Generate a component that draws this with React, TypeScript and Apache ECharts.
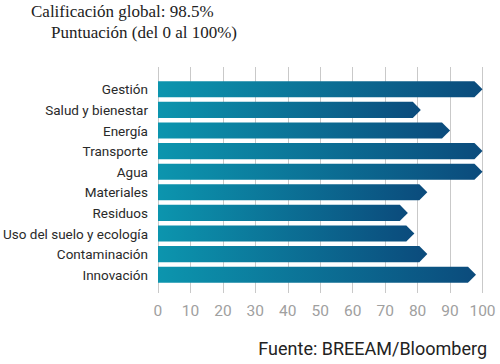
import React, { useEffect, useRef } from "react";
import * as echarts from "echarts";

const categories = [
  "Gestión",
  "Salud y bienestar",
  "Energía",
  "Transporte",
  "Agua",
  "Materiales",
  "Residuos",
  "Uso del suelo y ecología",
  "Contaminación",
  "Innovación",
];
const values = [100, 81, 90, 100, 100, 83, 77, 79, 83, 98];
const titleLines = ["Calificación global: 98.5%", "Puntuación (del 0 al 100%)"];
const source = "Fuente: BREEAM/Bloomberg";

export default function App() {
  const ref = useRef<HTMLDivElement>(null);
  useEffect(() => {
    if (!ref.current) return;
    const chart = echarts.init(ref.current, null, { renderer: "svg" });
    const gray = "#c9c9c9";
    chart.setOption({
      animation: false,
      grid: { left: 157.5, right: 17.5, top: 79, bottom: 79, containLabel: false },
      graphic: [
        {
          type: "text",
          left: 31,
          top: 3,
          style: { text: titleLines[0], font: '17px "Liberation Serif", serif', fill: "#222" },
        },
        {
          type: "text",
          left: 51,
          top: 24,
          style: { text: titleLines[1], font: '17px "Liberation Serif", serif', fill: "#222" },
        },
        {
          type: "text",
          right: 13,
          top: 339,
          style: { text: source, font: '18px Roboto, sans-serif', fill: "#222" },
        },
      ],
      xAxis: [
        {
          type: "value",
          min: 0,
          max: 100,
          interval: 10,
          position: "bottom",
          axisLine: { show: false },
          axisTick: { show: true, length: 8, lineStyle: { color: gray } },
          splitLine: { show: true, lineStyle: { color: gray, width: 1 } },
          axisLabel: { color: "#a0a0a0", fontSize: 15.5, fontFamily: "Roboto", margin: 18 },
        },
        {
          type: "value",
          min: 0,
          max: 100,
          interval: 10,
          position: "top",
          axisLine: { show: false },
          axisTick: { show: true, length: 12, lineStyle: { color: gray } },
          splitLine: { show: false },
          axisLabel: { show: false },
        },
      ],
      yAxis: {
        type: "category",
        data: categories,
        inverse: true,
        axisLine: { show: false },
        axisTick: { show: false },
        axisLabel: { color: "#2a2a2a", fontSize: 13.5, fontFamily: "Roboto", margin: 10 },
      },
      series: [
        {
          type: "custom",
          xAxisIndex: 0,
          data: values.map((v, i) => [v, i]),
          encode: { x: 0, y: 1 },
          renderItem: (params: any, api: any) => {
            const v = api.value(0);
            const idx = api.value(1);
            const start = api.coord([0, idx]);
            const end = api.coord([v, idx]);
            const band = api.size([0, 1])[1];
            const h = band * 0.78;
            const y = start[1];
            const x0 = start[0];
            const x1 = end[0];
            const tip = h / 2;
            return {
              type: "polygon",
              shape: {
                points: [
                  [x0, y - h / 2],
                  [x1 - tip, y - h / 2],
                  [x1, y],
                  [x1 - tip, y + h / 2],
                  [x0, y + h / 2],
                ],
              },
              style: {
                fill: new echarts.graphic.LinearGradient(0, 0, 1, 0, [
                  { offset: 0, color: "#0c95ae" },
                  { offset: 1, color: "#0b4b7c" },
                ]),
              },
            };
          },
        },
      ],
    });
    return () => chart.dispose();
  }, []);
  return <div ref={ref} style={{ width: 500, height: 364, position: "absolute", left: 0, top: 0 }} />;
}
